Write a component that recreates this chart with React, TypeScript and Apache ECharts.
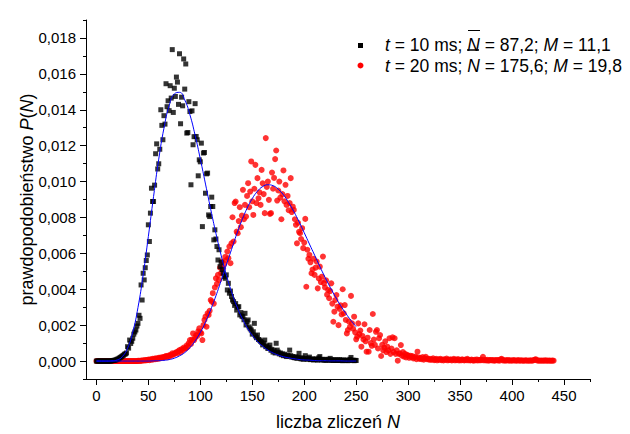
import React, { useEffect, useRef } from "react";
import * as echarts from "echarts";

// ---------- data ----------
// t = 10 ms, P(N) for N = 0, 1, 2, ... 250
const blackP = [
  0, 0, 0, 0, 0, 0, 0, 0, 0, 0,
  0, 0, 0, 0, 0, 0.00002, 0.00003, 0.00004, 0.00005, 0.00007,
  0.0001, 0.00012, 0.00016, 0.0002, 0.00024, 0.00028, 0.00032, 0.00038, 0.0004, 0.00045,
  0.0008, 0.00072, 0.00117, 0.00098, 0.0011, 0.00127, 0.0015, 0.00162, 0.00173, 0.00195,
  0.0021, 0.00255, 0.00238, 0.00424, 0.0034, 0.00489, 0.00452, 0.0052, 0.0056, 0.00591,
  0.00759, 0.00666, 0.00824, 0.00963, 0.00889, 0.00889, 0.0098, 0.01155, 0.0121, 0.0107,
  0.01099, 0.0118, 0.014, 0.01313, 0.01233, 0.01367, 0.0132, 0.01545, 0.01417, 0.0145,
  0.01395, 0.01534, 0.01465, 0.01735, 0.01385, 0.0152, 0.01474, 0.01582, 0.01554, 0.0143,
  0.01712, 0.01322, 0.0147, 0.01422, 0.01683, 0.01515, 0.01655, 0.0127, 0.01273, 0.01445,
  0.0139, 0.00982, 0.01394, 0.01205, 0.0125, 0.01434, 0.01251, 0.01233, 0.01032, 0.01121,
  0.0111, 0.01214, 0.00749, 0.01159, 0.01162, 0.00935, 0.01043, 0.01047, 0.00814, 0.00805,
  0.00861, 0.00913, 0.00861, 0.00675, 0.00731, 0.0068, 0.00638, 0.00563, 0.0062, 0.00526,
  0.0055, 0.0051, 0.0049, 0.0047, 0.00461, 0.0048, 0.00396, 0.00433, 0.00378, 0.0039,
  0.0036, 0.0034, 0.00331, 0.0031, 0.0032, 0.00284, 0.003, 0.00303, 0.00257, 0.0027,
  0.0025, 0.00247, 0.0023, 0.00266, 0.00201, 0.0022, 0.00229, 0.0019, 0.0018, 0.00173,
  0.0015, 0.00163, 0.0021, 0.0014, 0.0013, 0.00145, 0.0012, 0.00117, 0.0011, 0.00105,
  0.0009, 0.001, 0.00117, 0.0008, 0.00085, 0.0007, 0.00075, 0.00089, 0.0006, 0.00065,
  0.0005, 0.00058, 0.00045, 0.00099, 0.00061, 0.0005, 0.0004, 0.00045, 0.00035, 0.0004,
  0.0003, 0.00038, 0.0003, 0.00025, 0.00032, 0.00028, 0.00061, 0.0003, 0.00022, 0.00025,
  0.0002, 0.00018, 0.00024, 0.00015, 0.0002, 0.00043, 0.00016, 0.00012, 0.00018, 0.0001,
  0.00014, 0.0003, 0.00012, 0.0001, 0.00015, 0.00022, 0.00008, 0.0001, 0.00012, 0.00006,
  0.0001, 0.00008, 0.00012, 0.00005, 0.00018, 0.00025, 0.00008, 0.00006, 0.0001, 0.00005,
  0.00008, 0.00004, 0.00006, 0.0001, 0.00005, 0.00015, 0.00004, 0.00006, 0.00003, 0.00008,
  0.00005, 0.00003, 0.00006, 0.00004, 0.00008, 0.00003, 0.00005, 0.00002, 0.00006, 0.00004,
  0.00003, 0.00005, 0.00002, 0.00004, 0.0001, 0.0002, 0.00003, 0.00005, 0.00002, 0.00004,
  0.00003,
];

// t = 20 ms, P(N) for N = 0, 1, 2, ... 440
const redP = [
  0, 0, 0, 0, 0, 0, 0, 0, 0, 0,
  0, 0, 0, 0, 0, 0, 0, 0, 0, 0,
  0, 0, 0, 0, 0, 0, 0, 0, 0, 0,
  0, 0, 0, 0, 0, 0, 0, 0, 0, 0,
  0.00001, 0.00002, 0, 0.00003, 0.00002, 0.00004, 0.00003, 0.00005, 0.00004, 0.00006,
  0.00008, 0.00005, 0.0001, 0.00007, 0.00012, 0.00009, 0.00014, 0.0001, 0.00016, 0.00012,
  0.00018, 0.00015, 0.0002, 0.00017, 0.00022, 0.0002, 0.00025, 0.00028, 0.00022, 0.0003,
  0.00026, 0.00034, 0.0003, 0.00043, 0.00036, 0.0004, 0.00045, 0.0005, 0.00042, 0.00055,
  0.00061, 0.0005, 0.00066, 0.00061, 0.00075, 0.0007, 0.00071, 0.00088, 0.0008, 0.001,
  0.00117, 0.00095, 0.0012, 0.00154, 0.00117, 0.0013, 0.00145, 0.0014, 0.00165, 0.00182,
  0.0016, 0.00154, 0.00117, 0.002, 0.00229, 0.00247, 0.00191, 0.00266, 0.00257, 0.0028,
  0.0034, 0.00331, 0.00378, 0.0032, 0.0041, 0.00461, 0.0043, 0.0048, 0.00452, 0.0052,
  0.0049, 0.00555, 0.00517, 0.0054, 0.0058, 0.00563, 0.0061, 0.00573, 0.00638, 0.00545,
  0.00656, 0.00801, 0.00666, 0.0088, 0.00889, 0.00721, 0.00712, 0.0078, 0.00857, 0.00746,
  0.0081, 0.00954, 0.0079, 0.0087, 0.00805, 0.0092, 0.00991, 0.00857, 0.00944, 0.01112,
  0.0089, 0.00814, 0.0096, 0.01093, 0.0088, 0.01019, 0.00907, 0.0094, 0.0087, 0.01065,
  0.0099, 0.0093, 0.00824, 0.01242, 0.0097, 0.01, 0.00898, 0.0082, 0.00824, 0.0105,
  0.0096, 0.0102, 0.01125, 0.01173, 0.00894, 0.0095, 0.01, 0.0091, 0.0079, 0.0093,
  0.01062, 0.0089, 0.00982, 0.0087, 0.0092, 0.0084, 0.0088, 0.01019, 0.0083, 0.0086,
  0.00842, 0.0079, 0.00759, 0.00656, 0.0077, 0.0072, 0.00712, 0.0068, 0.0074, 0.00629,
  0.0066, 0.00792, 0.00414, 0.0062, 0.0057, 0.00591, 0.0055, 0.00489, 0.0051, 0.0057,
  0.0048, 0.0052, 0.00554, 0.00405, 0.0046, 0.00526, 0.0044, 0.0047, 0.00582, 0.00433,
  0.0041, 0.0045, 0.0037, 0.00396, 0.0035, 0.0039, 0.00433, 0.0032, 0.00219, 0.00275,
  0.0034, 0.00368, 0.00303, 0.002, 0.0029, 0.0031, 0.0026, 0.004, 0.00266, 0.00312,
  0.00229, 0.00154, 0.00173, 0.0022, 0.0019, 0.00363, 0.0021, 0.0018, 0.00247, 0.0016,
  0.00121, 0.00136, 0.0021, 0.0015, 0.0017, 0.0008, 0.0014, 0.0012, 0.00205, 0.0011,
  0.00052, 0.0013, 0.00052, 0.00173, 0.001, 0.00085, 0.00262, 0.0012, 0.0009, 0.00163,
  0.00173, 0.0007, 0.00127, 0.00145, 0.00028, 0.0009, 0.0006, 0.00075, 0.0011, 0.0005,
  0.0008, 0.0006, 0.00127, 0.0004, 0.0007, 0.00132, 0.0005, 0.00127, 0.0004, 0.0006,
  0.00002, 0.0004, 0.00043, 0.00089, 0.0003, 0.0005, 0.00025, 0.0004, 0.0002, 0.00035,
  0.0003, 0.00018, 0.0003, 0.00022, 0.00028, 0.00015, 0.0002, 0.00025, 0.0001, 0.00052,
  0.0002, 0.00012, 0.00018, 0.0001, 0.00022, 0.00008, 0.00015, 0.00024, 0.0001, 0.00012,
  0.00008, 0.00012, 0.00006, 0.0001, 0.00015, 0.00005, 0.00008, 0.00012, 0.00004, 0.0001,
  0.00007, 0.00012, 0.00005, 0.00009, 0.00003, 0.0001, 0.00006, 0.00014, 0.00004, 0.00008,
  0.00006, 0.0001, 0.00003, 0.00007, 0.00012, 0.00004, 0.00008, 0.00005, 0.00011, 0.00003,
  0.00007, 0.00004, 0.0001, 0.00006, 0.00003, 0.00008, 0.00005, 0.00012, 0.00004, 0.00006,
  0.00003, 0.00008, 0.00005, 0.00002, 0.00007, 0.00004, 0.00009, 0.00003, 0.00006, 0.00004,
  0.00008, 0.00005, 0.00024, 0.00004, 0.00006, 0.00003, 0.00007, 0.00002, 0.00005, 0.00004,
  0.00006, 0.00003, 0.00005, 0.00002, 0.00004, 0.00006, 0.00003, 0.00005, 0.00002, 0.0001,
  0.00012, 0.00003, 0.00005, 0.00002, 0.00004, 0.00003, 0.00006, 0.00002, 0.00004, 0.00003,
  0.00002, 0.00005, 0.00003, 0.00004, 0.00002, 0.00003, 0.00005, 0.00002, 0.00003, 0.00004,
  0.00002, 0.00003, 0.00002, 0.00004, 0.00003, 0.00002, 0.00003, 0.00002, 0.00004, 0.00002,
  0.00003, 0.00005, 0.00008, 0.0001, 0.00004, 0.00002, 0.00003, 0.00002, 0.00003, 0.00002,
  0.00003, 0.00002, 0.00004, 0.00002, 0.00003, 0.00002, 0.00003, 0.00002, 0.00002, 0.00003,
  0.00002,
];

// fitted curves (blue), read at N = 0, 5, ... 250
const fitN = [
  0, 5, 10, 15, 20, 25, 30, 35, 40, 45, 50, 55, 60, 65, 70, 75, 80, 85, 90, 95,
  100, 105, 110, 115, 120, 125, 130, 135, 140, 145, 150, 155, 160, 165, 170, 175,
  180, 185, 190, 195, 200, 205, 210, 215, 220, 225, 230, 235, 240, 245, 250,
];
const blackFitP = [
  0, 0, 0, 0.00001, 0.00006, 0.00025, 0.00072, 0.00161, 0.00298, 0.0048,
  0.00694, 0.00916, 0.01125, 0.01297, 0.01422, 0.01488, 0.01497, 0.01455, 0.01372, 0.01258,
  0.01126, 0.00986, 0.00846, 0.00712, 0.0059, 0.00481, 0.00387, 0.00307, 0.00241, 0.00187,
  0.00143, 0.00109, 0.00082, 0.00061, 0.00045, 0.00033, 0.00024, 0.00018, 0.00013, 0.00009,
  0.00006, 0.00005, 0.00003, 0.00002, 0.00002, 0.00001, 0.00001, 0.00001, 0, 0, 0,
];
const redFitP = [
  0, 0, 0, 0, 0, 0, 0, 0, 0, 0,
  0, 0.00001, 0.00002, 0.00004, 0.00008, 0.00016, 0.00029, 0.00047, 0.00075, 0.00112,
  0.00159, 0.00217, 0.00286, 0.00363, 0.00447, 0.00535, 0.00621, 0.00707, 0.00784, 0.00851,
  0.00905, 0.00946, 0.00972, 0.00982, 0.00977, 0.00957, 0.00926, 0.00883, 0.00833, 0.00776,
  0.00715, 0.00652, 0.0059, 0.00527, 0.00467, 0.00411, 0.00358, 0.00309, 0.00266, 0.00226,
  0.00191,
];

// ticks
const xMajorTicks = [0, 50, 100, 150, 200, 250, 300, 350, 400, 450];
const xMinorTicks = [25, 75, 125, 175, 225, 275, 325, 375, 425, 475];
const yMajorTicks = [0, 0.002, 0.004, 0.006, 0.008, 0.01, 0.012, 0.014, 0.016, 0.018];
const yMinorTicks = [-0.001, 0.001, 0.003, 0.005, 0.007, 0.009, 0.011, 0.013, 0.015, 0.017, 0.019];

// ---------- chart ----------
const FONT = "'Liberation Sans', Arial, Helvetica, sans-serif";
const TICK_FS = 15;
const TITLE_FS = 18;
const LEG_FS = 17.5;

const richTitle = {
  n: { fontFamily: FONT, fontSize: TITLE_FS, color: "#000" },
  i: { fontFamily: FONT, fontSize: TITLE_FS, color: "#000", fontStyle: "italic" },
};
const richLeg = {
  n: { fontFamily: FONT, fontSize: LEG_FS, color: "#000" },
  i: { fontFamily: FONT, fontSize: LEG_FS, color: "#000", fontStyle: "italic" },
};

const X_MIN = -10;
const X_MAX = 475;
const Y_MIN = -0.001;
const Y_MAX = 0.019;

function buildOption() {
  const blackData = blackP.map((p, n) => [n, p]);
  const redData = redP.map((p, n) => [n, p]);
  const blackFit = fitN.map((n, i) => [n, blackFitP[i]]);
  const redFit = fitN.map((n, i) => [n, redFitP[i]]);

  const axisLine = { show: true, onZero: false, lineStyle: { color: "#000", width: 1 } };

  return {
    animation: false,
    grid: { left: 86, right: 40, top: 20, bottom: 55, containLabel: false, outerBoundsMode: "none" },
    xAxis: [
      {
        type: "value",
        min: X_MIN,
        max: X_MAX,
        position: "bottom",
        axisLine,
        axisTick: { show: true, customValues: xMajorTicks, length: 6, lineStyle: { color: "#000" } },
        axisLabel: {
          customValues: xMajorTicks,
          color: "#000",
          fontSize: TICK_FS,
          fontFamily: FONT,
          margin: 9,
        },
        splitLine: { show: false },
        name: "{n|liczba zliczeń }{i|N}",
        nameLocation: "middle",
        nameGap: 34,
        nameMoveOverlap: false,
        nameTextStyle: { rich: richTitle },
      },
      {
        type: "value",
        min: X_MIN,
        max: X_MAX,
        position: "bottom",
        axisLine: { show: false, onZero: false },
        axisTick: { show: true, customValues: xMinorTicks, length: 3, lineStyle: { color: "#000" } },
        axisLabel: { show: false },
        splitLine: { show: false },
      },
    ],
    yAxis: [
      {
        type: "value",
        min: Y_MIN,
        max: Y_MAX,
        position: "left",
        axisLine,
        axisTick: { show: true, customValues: yMajorTicks, length: 6, lineStyle: { color: "#000" } },
        axisLabel: {
          customValues: yMajorTicks,
          color: "#000",
          fontSize: TICK_FS,
          fontFamily: FONT,
          margin: 10,
          formatter: (v: number) => v.toFixed(3).replace(".", ","),
        },
        splitLine: { show: false },
        name: "{n|prawdopodobieństwo }{i|P}{n|(}{i|N}{n|)}",
        nameLocation: "middle",
        nameGap: 50,
        nameMoveOverlap: false,
        nameTextStyle: { rich: richTitle },
      },
      {
        type: "value",
        min: Y_MIN,
        max: Y_MAX,
        position: "left",
        axisLine: { show: false, onZero: false },
        axisTick: { show: true, customValues: yMinorTicks, length: 3, lineStyle: { color: "#000" } },
        axisLabel: { show: false },
        splitLine: { show: false },
      },
    ],
    series: [
      {
        name: "t = 20 ms",
        type: "scatter",
        data: redData,
        symbol: "circle",
        symbolSize: 6,
        itemStyle: { color: "#ff0000" },
        xAxisIndex: 0,
        yAxisIndex: 0,
      },
      {
        name: "t = 10 ms",
        type: "scatter",
        data: blackData,
        symbol: "rect",
        symbolSize: 5,
        itemStyle: { color: "#000000" },
        xAxisIndex: 0,
        yAxisIndex: 0,
      },
      {
        name: "fit 20 ms",
        type: "line",
        data: redFit,
        smooth: true,
        showSymbol: false,
        symbol: "none",
        lineStyle: { color: "#0000ff", width: 1 },
        xAxisIndex: 0,
        yAxisIndex: 0,
      },
      {
        name: "fit 10 ms",
        type: "line",
        data: blackFit,
        smooth: true,
        showSymbol: false,
        symbol: "none",
        lineStyle: { color: "#0000ff", width: 1 },
        xAxisIndex: 0,
        yAxisIndex: 0,
      },
    ],
    graphic: [
      { type: "rect", shape: { x: 358, y: 43, width: 5, height: 5 }, style: { fill: "#000" } },
      { type: "circle", shape: { cx: 360.5, cy: 65.5, r: 3 }, style: { fill: "#ff0000" } },
      {
        type: "text",
        x: 385,
        y: 44.5,
        style: {
          text: "{i|t}{n| = 10 ms; }{i|N}{n| = 87,2; }{i|M}{n| = 11,1}",
          rich: richLeg,
          fontFamily: FONT,
          fontSize: LEG_FS,
          verticalAlign: "middle",
          fill: "#000",
        },
      },
      {
        type: "line",
        shape: { x1: 468, y1: 30.5, x2: 480, y2: 30.5 },
        style: { stroke: "#000", lineWidth: 1 },
      },
      {
        type: "line",
        shape: { x1: 467, y1: 50, x2: 479, y2: 50 },
        style: { stroke: "#000", lineWidth: 1.5 },
      },
      {
        type: "text",
        x: 385,
        y: 66,
        style: {
          text: "{i|t}{n| = 20 ms; }{i|N}{n| = 175,6; }{i|M}{n| = 19,8}",
          rich: richLeg,
          fontFamily: FONT,
          fontSize: LEG_FS,
          verticalAlign: "middle",
          fill: "#000",
        },
      },
    ],
  };
}

export default function App() {
  const ref = useRef<HTMLDivElement>(null);
  useEffect(() => {
    document.body.style.margin = "0";
    if (!ref.current) return;
    const chart = echarts.init(ref.current, null, { renderer: "svg" });
    chart.setOption(buildOption() as any);
    return () => chart.dispose();
  }, []);
  return <div ref={ref} style={{ width: 630, height: 434, background: "#fff" }} />;
}
